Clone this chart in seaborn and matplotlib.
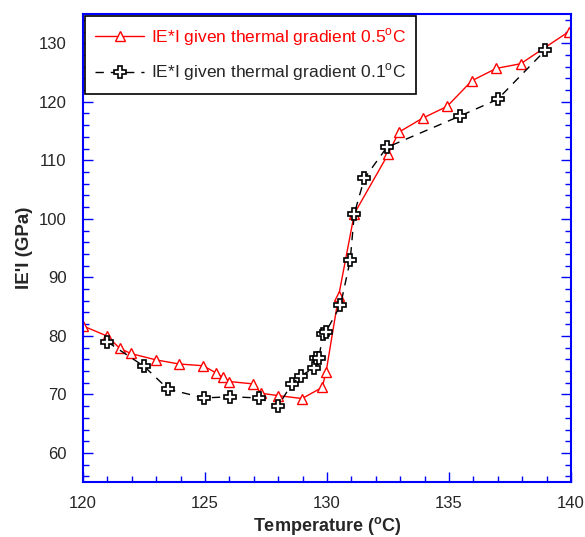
import matplotlib
matplotlib.use("Agg")
import matplotlib.pyplot as plt
import seaborn as sns
import pandas as pd
from matplotlib.ticker import MultipleLocator

# gradient 0.5 C (red triangles)
temp_05 = [120.0, 120.97, 121.5, 121.95, 122.99, 123.94, 124.92, 125.44, 125.74, 126.0,
           126.97, 127.3, 127.99, 128.98, 129.8, 129.96, 130.48, 131.12, 132.5, 132.94,
           133.92, 134.92, 135.94, 136.94, 137.94, 139.92]
ei_05 = [81.7, 80.0, 77.9, 77.0, 75.9, 75.2, 74.9, 73.7, 72.9, 72.2,
         71.8, 70.2, 69.8, 69.3, 71.2, 73.8, 86.9, 100.9, 111.0, 114.8,
         117.2, 119.2, 123.6, 125.7, 126.5, 132.0]

# gradient 0.1 C (black crosses)
temp_01 = [120.99, 122.5, 123.49, 124.95, 126.04, 127.2, 127.99, 128.56, 128.94, 129.46,
           129.53, 129.67, 129.83, 129.94, 130.55, 130.95, 131.12, 131.53, 132.45, 135.47,
           136.99, 138.95]
ei_01 = [79.0, 74.8, 70.9, 69.4, 69.6, 69.4, 68.0, 71.8, 73.2, 74.5,
         76.2, 76.2, 80.4, 80.6, 85.2, 92.9, 100.9, 106.9, 112.2, 117.6,
         120.4, 128.8]

sns.set_style("white")
plt.rcParams['font.family'] = ['Liberation Sans', 'DejaVu Sans']
plt.rcParams['mathtext.fontset'] = 'custom'
plt.rcParams['mathtext.rm'] = 'Liberation Sans'
plt.rcParams['mathtext.bf'] = 'Liberation Sans:bold'

fig = plt.figure(figsize=(5.85, 5.37), dpi=100)
ax = fig.add_axes([0.142, 0.102, 0.834, 0.872])

df05 = pd.DataFrame({'T': temp_05, 'E': ei_05})
df01 = pd.DataFrame({'T': temp_01, 'E': ei_01})

sns.lineplot(data=df05, x='T', y='E', ax=ax, sort=False, color='red', lw=1,
             marker='^', markersize=7, markerfacecolor='white', markeredgecolor='red',
             markeredgewidth=1, label='IE*I given thermal gradient 0.5$^{\\rm o}$C')
sns.lineplot(data=df01, x='T', y='E', ax=ax, sort=False, color='black', lw=1,
             dashes=False, marker='P', markersize=8, markerfacecolor='white',
             markeredgecolor='black', markeredgewidth=1.2,
             label='IE*I given thermal gradient 0.1$^{\\rm o}$C')
ax.lines[-1].set_dashes([6, 5])

ax.set_xlim(120, 140)
ax.set_ylim(55, 135)
ax.xaxis.set_major_locator(MultipleLocator(5))
ax.xaxis.set_minor_locator(MultipleLocator(1))
ax.yaxis.set_minor_locator(MultipleLocator(2))
ax.set_yticks([60, 70, 80, 90, 100, 110, 120, 130])
ax.tick_params(which='both', direction='in', color='blue', right=True, left=True,
               bottom=True, labelsize=12)
ax.tick_params(axis='x', pad=10)
ax.tick_params(axis='y', pad=12)
ax.tick_params(which='major', length=7, width=1)
ax.tick_params(which='minor', length=4, width=1)
for s in ax.spines.values():
    s.set_color('blue')
    s.set_linewidth(1.5)

ax.set_xlabel('Temperature ($\\mathbf{^{o}}$C)', fontsize=13, fontweight='bold', labelpad=3)
ax.set_ylabel("IE'I (GPa)", fontsize=13.5, fontweight='bold', labelpad=4)

leg = ax.legend(loc='upper left', bbox_to_anchor=(0.0, 1.0), fontsize=12.5,
                frameon=True, fancybox=False, edgecolor='black', framealpha=1,
                handlelength=2.8, handletextpad=0.4, borderpad=0.6, labelspacing=0.8,
                borderaxespad=0.1)
leg.get_frame().set_linewidth(1.2)
leg.get_texts()[0].set_color('red')

fig.savefig('out.png', dpi=100)
